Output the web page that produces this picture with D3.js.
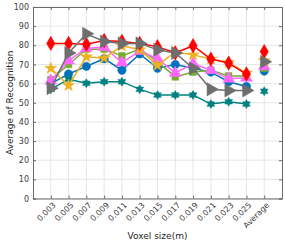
<!DOCTYPE html>
<html>
<head>
<meta charset="utf-8">
<script src="https://cdn.jsdelivr.net/npm/d3@7"></script>
<style>
  body { margin: 0; background: #fff; }
  svg { display: block; font-family: "DejaVu Sans", sans-serif; }
</style>
</head>
<body>
<div id="chart"></div>
<script>
var categories = ["0.003", "0.005", "0.007", "0.009", "0.011", "0.013", "0.015",
                  "0.017", "0.019", "0.021", "0.023", "0.025", "Average"];
var yTicks = [0, 10, 20, 30, 40, 50, 60, 70, 80, 90, 100];

// last value of each array is the "Average" point
var blueVals   = [60, 65, 69, 73, 67, 75.5, 68, 70, 68, 66, 61, 58.5, 66.5];
var greenVals  = [62, 70, 78, 78, 74.5, 78, 71.5, 63.5, 66, 67, 64, 64, 68];
var pinkVals   = [61.5, 72, 78.5, 79, 71, 77, 73, 65.5, 70.5, 67, 62.5, 63, 69];
var tealVals   = [57, 62.3, 60.2, 61, 61, 57, 54, 54, 54, 49.3, 50.5, 49.3, 56];
var orangeVals = [68, 59, 74, 73.3, 79.7, 77.7, 69.5, 76.5, 75, 72.8, 71, 65.5, 72];
var redVals    = [81, 81, 80.5, 82.5, 82, 81, 79.3, 76, 79.8, 72.8, 70.7, 65, 76.7];
var grayVals   = [57.6, 76, 86, 82, 81, 81, 77.6, 76, 68, 57, 56.4, 56.4, 71.4];

var width = 285, height = 241;
var margin = {top: 7, right: 282, bottom: 198.5, left: 33};

var svg = d3.select("#chart").append("svg")
    .attr("width", width)
    .attr("height", height);

var x = d3.scaleLinear().domain([0, categories.length + 1]).range([margin.left, margin.right]);
var y = d3.scaleLinear().domain([0, 100]).range([margin.bottom, margin.top]);

// grid
svg.append("g").selectAll("line")
    .data(categories)
    .enter().append("line")
    .attr("x1", function (d, i) { return x(i + 1); })
    .attr("x2", function (d, i) { return x(i + 1); })
    .attr("y1", margin.top).attr("y2", margin.bottom)
    .attr("stroke", "#e6e6e6").attr("stroke-width", 1);
svg.append("g").selectAll("line")
    .data(yTicks)
    .enter().append("line")
    .attr("x1", margin.left).attr("x2", margin.right)
    .attr("y1", function (d) { return y(d); })
    .attr("y2", function (d) { return y(d); })
    .attr("stroke", "#e6e6e6").attr("stroke-width", 1);

// axes
var yAxis = svg.append("g")
    .attr("transform", "translate(" + margin.left + ",0)")
    .call(d3.axisLeft(y).tickValues(yTicks).tickSize(-3).tickPadding(4));
var yAxisR = svg.append("g")
    .attr("transform", "translate(" + margin.right + ",0)")
    .call(d3.axisRight(y).tickValues(yTicks).tickSize(-3).tickFormat(""));
var xAxis = svg.append("g")
    .attr("transform", "translate(0," + margin.bottom + ")")
    .call(d3.axisBottom(x).tickValues(d3.range(1, categories.length + 1))
        .tickSize(-3).tickFormat(function (d) { return categories[d - 1]; }));
var xAxisT = svg.append("g")
    .attr("transform", "translate(0," + margin.top + ")")
    .call(d3.axisTop(x).tickValues(d3.range(1, categories.length + 1))
        .tickSize(-3).tickFormat(""));

[yAxis, yAxisR, xAxis, xAxisT].forEach(function (g) {
    g.select(".domain").attr("stroke", "#6b6b6b");
    g.selectAll(".tick line").attr("stroke", "#6b6b6b");
    g.selectAll("text").attr("fill", "#404040").style("font-size", "8px")
        .style("font-family", "DejaVu Sans, sans-serif");
});

xAxis.selectAll("text")
    .attr("text-anchor", "end")
    .attr("dy", "0")
    .attr("transform", "translate(3,5) rotate(-45)");

// hexagram symbol
var hexagram = {
    draw: function (ctx, size) {
        var r = Math.sqrt(size / 2.2);
        var ri = r * 0.577;
        for (var k = 0; k < 12; k++) {
            var a = Math.PI / 6 * k - Math.PI / 2;
            var rr = (k % 2 === 0) ? r : ri;
            if (k === 0) ctx.moveTo(rr * Math.cos(a), rr * Math.sin(a));
            else ctx.lineTo(rr * Math.cos(a), rr * Math.sin(a));
        }
        ctx.closePath();
    }
};

var series = [
    {vals: blueVals, color: "#0072BD", sym: d3.symbolCircle, size: 55, rot: 0},
    {vals: greenVals, color: "#77AC30", sym: d3.symbolSquare, size: 45, rot: 0},
    {vals: pinkVals, color: "#FF66FF", sym: d3.symbolTriangle, size: 60, rot: 0},
    {vals: tealVals, color: "#008080", sym: hexagram, size: 45, rot: 0},
    {vals: orangeVals, color: "#EDB120", sym: d3.symbolStar, size: 45, rot: 0},
    {vals: redVals, color: "#FF0000", sym: d3.symbolDiamond, size: 60, rot: 0},
    {vals: grayVals, color: "#6E6E6E", sym: d3.symbolTriangle, size: 75, rot: 90}
];

var line = d3.line()
    .x(function (d, i) { return x(i + 1); })
    .y(function (d) { return y(d); });

series.forEach(function (s) {
    var main = s.vals.slice(0, categories.length - 1);
    svg.append("path")
        .datum(main)
        .attr("d", line)
        .attr("fill", "none")
        .attr("stroke", s.color)
        .attr("stroke-width", 1.5);
    svg.append("g").selectAll("path")
        .data(s.vals)
        .enter().append("path")
        .attr("d", d3.symbol().type(s.sym).size(s.size))
        .attr("transform", function (d, i) {
            return "translate(" + x(i + 1) + "," + y(d) + ") rotate(" + s.rot + ")";
        })
        .attr("fill", s.color)
        .attr("stroke", s.color)
        .attr("stroke-width", 0.5);
});

// labels
svg.append("text")
    .attr("transform", "translate(10," + ((margin.top + margin.bottom) / 2) + ") rotate(-90)")
    .attr("text-anchor", "middle")
    .attr("dy", "0.35em")
    .style("font-size", "9px")
    .attr("fill", "#262626")
    .text("Average of Recognition");

svg.append("text")
    .attr("x", (margin.left + margin.right) / 2)
    .attr("y", 239)
    .attr("text-anchor", "middle")
    .style("font-size", "9px")
    .attr("fill", "#262626")
    .text("Voxel size(m)");
</script>
</body>
</html>
